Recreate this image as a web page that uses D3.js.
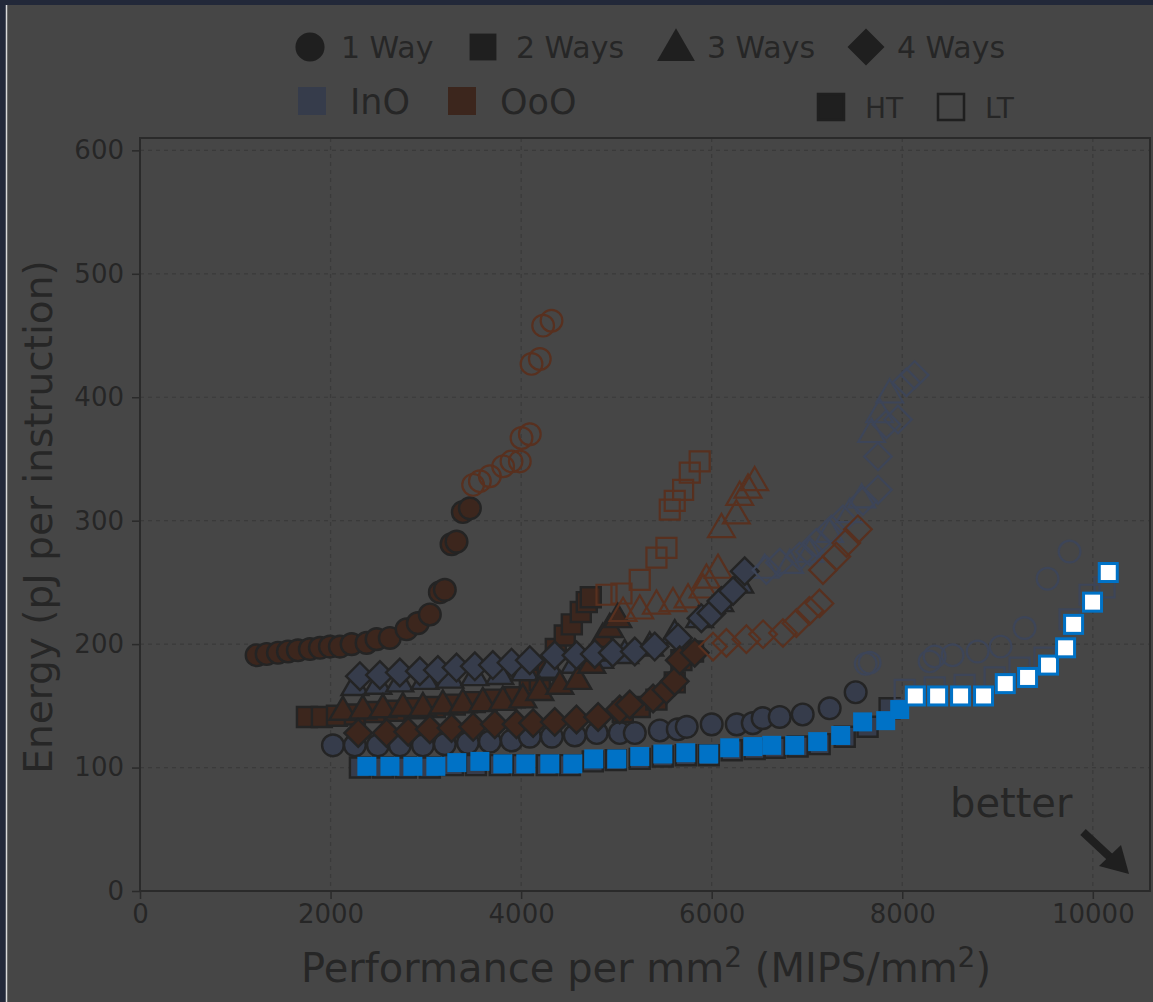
<!DOCTYPE html>
<html>
<head>
<meta charset="utf-8">
<script src="https://cdn.jsdelivr.net/npm/d3@7"></script>
<style>
  html, body { margin: 0; padding: 0; background: #464646; }
  svg { display: block; font-family: 'DejaVu Sans', sans-serif; }
</style>
</head>
<body>
<div id="chart"></div>
<script>
// axis ticks
const xTicks = [0, 2000, 4000, 6000, 8000, 10000];
const yTicks = [0, 100, 200, 300, 400, 500, 600];

// legend entries
const wayLabels = ['1 Way', '2 Ways', '3 Ways', '4 Ways'];
const orgLabels = ['InO', 'OoO'];
const threadLabels = ['HT', 'LT'];

// 1 way
const ino1HtX = [2025, 2255, 2497, 2727, 2969, 3199, 3441, 3672, 3902, 4091, 4322, 4563, 4794, 5035, 5193, 5455, 5644, 5738, 6000, 6263, 6431, 6535, 6714, 6955, 7238, 7511];
const ino1HtY = [118, 118, 118, 118, 118, 119, 120, 121, 122, 125, 125, 126, 128, 128, 128, 130, 131, 133, 135, 135, 136, 140, 141, 143, 148, 161];
const ino1LtX = [7616, 7658, 8287, 8340, 8528, 8791, 9032, 9284, 9525, 9756];
const ino1LtY = [184, 185, 186, 190, 191, 194, 198, 213, 253, 275];
const ooo1HtX = [1224, 1329, 1448, 1553, 1657, 1783, 1888, 1993, 2098, 2221, 2378, 2483, 2622, 2798, 2916, 3042, 3147, 3199, 3270, 3322, 3388, 3462];
const ooo1HtY = [191, 192, 193, 194, 195, 196, 197, 198, 198, 200, 201, 204, 205, 212, 217, 224, 242, 244, 281, 283, 307, 310];
const ooo1LtX = [3496, 3567, 3672, 3811, 3899, 3986, 4004, 4091, 4109, 4196, 4231, 4319];
const ooo1LtY = [329, 332, 336, 344, 348, 348, 367, 370, 427, 431, 458, 462];

// 2 ways
const ino2HtX = [2308, 2549, 2790, 3042, 3283, 3525, 3776, 4018, 4269, 4511, 4752, 4993, 5245, 5486, 5728, 5969, 6210, 6451, 6661, 6902, 7133, 7396, 7636, 7867];
const ino2HtY = [100, 100, 100, 100, 102, 102, 102, 102, 102, 102, 105, 106, 107, 109, 110, 110, 114, 115, 116, 117, 119, 125, 133, 148];
const ino2LtX = [8025, 8340, 8654, 8969, 9231, 9493, 9756, 9966, 10123];
const ino2LtY = [163, 165, 167, 173, 181, 189, 220, 240, 246];
const ooo2HtX = [1752, 1909, 2067, 2255, 2465, 2675, 2884, 3094, 3304, 3514, 3724, 3934, 4091, 4196, 4280, 4364, 4458, 4532, 4626, 4689, 4731, 5067, 5245, 5420, 5612, 5682, 5804];
const ooo2HtY = [141, 141, 142, 143, 145, 146, 148, 149, 151, 153, 155, 157, 165, 171, 179, 196, 207, 216, 226, 234, 238, 145, 149, 155, 169, 187, 194];
const ooo2LtX = [4896, 5053, 5245, 5420, 5525, 5560, 5612, 5700, 5770, 5874];
const ooo2LtY = [240, 241, 252, 270, 278, 309, 316, 325, 339, 348];

// 3 ways
const ino3HtX = [2255, 2497, 2727, 2990, 3252, 3514, 3776, 4039, 4301, 4563, 4825, 5087, 5350, 5612, 5874, 6084, 6294];
const ino3HtY = [165, 166, 168, 170, 171, 173, 174, 177, 179, 183, 187, 191, 197, 207, 220, 233, 248];
const ino3LtX = [6556, 6819, 7028, 7238, 7448, 7574, 7678, 7763, 7868];
const ino3LtY = [260, 264, 273, 289, 305, 317, 370, 386, 402];
const ooo3HtX = [2129, 2339, 2549, 2759, 2969, 3178, 3388, 3598, 3808, 4018, 4196, 4406, 4595, 4741, 4804, 4857, 4930, 5014];
const ooo3HtY = [145, 146, 147, 148, 148, 150, 151, 152, 153, 155, 161, 166, 170, 183, 193, 204, 212, 220];
const ooo3LtX = [5070, 5245, 5420, 5594, 5752, 5909, 5945, 6066, 6102, 6259, 6294, 6381, 6451];
const ooo3LtY = [225, 227, 231, 233, 236, 244, 252, 260, 293, 304, 319, 325, 331];

// 4 ways
const ino4HtX = [2308, 2518, 2727, 2937, 3126, 3322, 3514, 3703, 3899, 4091, 4353, 4581, 4773, 4962, 5193, 5402, 5647, 5892, 5997, 6102, 6224, 6346];
const ino4HtY = [174, 175, 177, 178, 179, 181, 182, 183, 185, 187, 191, 191, 192, 193, 194, 198, 205, 221, 225, 235, 243, 259];
const ino4LtX = [6574, 6714, 6923, 7028, 7098, 7256, 7378, 7588, 7745, 7745, 7833, 7955, 8043, 8130];
const ino4LtY = [260, 266, 271, 275, 282, 293, 301, 316, 325, 352, 378, 382, 412, 418];
const ooo4HtX = [2290, 2588, 2815, 3042, 3270, 3496, 3724, 3952, 4126, 4353, 4581, 4808, 5035, 5140, 5385, 5525, 5612, 5665, 5822];
const ooo4HtY = [128, 128, 129, 131, 132, 133, 135, 135, 136, 137, 139, 141, 147, 151, 156, 163, 170, 187, 193];
const ooo4LtX = [6014, 6154, 6364, 6539, 6748, 6889, 7026, 7131, 7168, 7308, 7413, 7535];
const ooo4LtY = [198, 201, 204, 208, 209, 217, 227, 233, 260, 271, 282, 293];

// pareto frontier (highlighted)
const frontHtX = [2381, 2623, 2864, 3105, 3325, 3567, 3808, 4049, 4301, 4542, 4762, 5004, 5245, 5487, 5728, 5969, 6189, 6431, 6630, 6871, 7112, 7354, 7584, 7826, 7973];
const frontHtY = [101, 101, 101, 101, 104, 105, 103, 103, 103, 103, 107, 107, 109, 111, 112, 111, 116, 117, 118, 118, 121, 126, 137, 138, 147];
const frontLtX = [8137, 8371, 8612, 8853, 9081, 9315, 9535, 9714, 9798, 9997, 10162];
const frontLtY = [158, 158, 158, 158, 168, 173, 183, 197, 216, 234, 258];

const OPTS = {
  width: 1153,
  height: 1002,
  plot: { left: 140, right: 1150, top: 138, bottom: 891 },
  xMax: 10600,
  yMax: 610,
  bg: '#464646',
  frame: '#222839',
  text: '#262626',
  spine: '#2a2a2a',
  grid: '#3a3a3a',
  fill: { InO: '#363c4b', OoO: '#3c261d' },
  hollow: { InO: '#3d4558', OoO: '#58301f' },
  edge: '#242424',
  highlight: '#0072c6'
};

const zip = (xs, ys) => xs.map((x, i) => ({ x: x, y: ys[i] }));

const series = [
  { way: 1, org: 'InO', ht: true, pts: zip(ino1HtX, ino1HtY) },
  { way: 1, org: 'InO', ht: false, pts: zip(ino1LtX, ino1LtY) },
  { way: 1, org: 'OoO', ht: true, pts: zip(ooo1HtX, ooo1HtY) },
  { way: 1, org: 'OoO', ht: false, pts: zip(ooo1LtX, ooo1LtY) },
  { way: 2, org: 'InO', ht: true, pts: zip(ino2HtX, ino2HtY) },
  { way: 2, org: 'InO', ht: false, pts: zip(ino2LtX, ino2LtY) },
  { way: 2, org: 'OoO', ht: true, pts: zip(ooo2HtX, ooo2HtY) },
  { way: 2, org: 'OoO', ht: false, pts: zip(ooo2LtX, ooo2LtY) },
  { way: 3, org: 'InO', ht: true, pts: zip(ino3HtX, ino3HtY) },
  { way: 3, org: 'InO', ht: false, pts: zip(ino3LtX, ino3LtY) },
  { way: 3, org: 'OoO', ht: true, pts: zip(ooo3HtX, ooo3HtY) },
  { way: 3, org: 'OoO', ht: false, pts: zip(ooo3LtX, ooo3LtY) },
  { way: 4, org: 'InO', ht: true, pts: zip(ino4HtX, ino4HtY) },
  { way: 4, org: 'InO', ht: false, pts: zip(ino4LtX, ino4LtY) },
  { way: 4, org: 'OoO', ht: true, pts: zip(ooo4HtX, ooo4HtY) },
  { way: 4, org: 'OoO', ht: false, pts: zip(ooo4LtX, ooo4LtY) }
];

// marker shape per number of ways: [symbol type, area, rotation]
const shapes = {
  1: [d3.symbolCircle, 370, 0],
  2: [d3.symbolSquare, 400, 0],
  3: [d3.symbolTriangle, 310, 0],
  4: [d3.symbolSquare, 380, 45]
};

const marker = (way, scale) => {
  const s = shapes[way];
  return d3.symbol().type(s[0]).size(s[1] * (scale || 1))();
};

const svg = d3.select('#chart')
  .append('svg')
  .attr('width', OPTS.width)
  .attr('height', OPTS.height);

svg.append('rect')
  .attr('width', OPTS.width)
  .attr('height', OPTS.height)
  .attr('fill', OPTS.bg);

// slide frame bits at the top and left
svg.append('rect').attr('x', 0).attr('y', 0).attr('width', OPTS.width).attr('height', 5).attr('fill', OPTS.frame);
svg.append('rect').attr('x', 0).attr('y', 0).attr('width', 6).attr('height', OPTS.height).attr('fill', OPTS.frame);
svg.append('line')
  .attr('x1', 6.5).attr('x2', 6.5).attr('y1', 5).attr('y2', OPTS.height)
  .attr('stroke', '#d9d9d9').attr('stroke-width', 1.5);

const p = OPTS.plot;
const x = d3.scaleLinear().domain([0, OPTS.xMax]).range([p.left, p.right]);
const y = d3.scaleLinear().domain([0, OPTS.yMax]).range([p.bottom, p.top]);

// grid
const grid = svg.append('g').attr('class', 'grid');
grid.selectAll('.gx')
  .data(xTicks.slice(1))
  .enter()
  .append('line')
  .attr('x1', d => x(d)).attr('x2', d => x(d))
  .attr('y1', p.top).attr('y2', p.bottom)
  .attr('stroke', OPTS.grid).attr('stroke-width', 1.2).attr('stroke-dasharray', '4,4');
grid.selectAll('.gy')
  .data(yTicks.slice(1))
  .enter()
  .append('line')
  .attr('x1', p.left).attr('x2', p.right)
  .attr('y1', d => y(d)).attr('y2', d => y(d))
  .attr('stroke', OPTS.grid).attr('stroke-width', 1.2).attr('stroke-dasharray', '4,4');

// scatter series
const plotG = svg.append('g').attr('class', 'points');
series.forEach(s => {
  const rot = shapes[s.way][2];
  plotG.append('g')
    .selectAll('path')
    .data(s.pts)
    .enter()
    .append('path')
    .attr('d', marker(s.way))
    .attr('transform', d => 'translate(' + x(d.x) + ',' + y(d.y) + ')' + (rot ? ' rotate(' + rot + ')' : ''))
    .attr('fill', s.ht ? OPTS.fill[s.org] : 'none')
    .attr('stroke', s.ht ? OPTS.edge : OPTS.hollow[s.org])
    .attr('stroke-width', s.ht ? 2.4 : 2.2);
});

// highlighted frontier
const frontG = svg.append('g').attr('class', 'front');
frontG.selectAll('.fht')
  .data(zip(frontHtX, frontHtY))
  .enter()
  .append('rect')
  .attr('x', d => x(d.x) - 9.5)
  .attr('y', d => y(d.y) - 9.5)
  .attr('width', 19)
  .attr('height', 19)
  .attr('fill', OPTS.highlight);
frontG.selectAll('.flt')
  .data(zip(frontLtX, frontLtY))
  .enter()
  .append('rect')
  .attr('x', d => x(d.x) - 9)
  .attr('y', d => y(d.y) - 9)
  .attr('width', 18)
  .attr('height', 18)
  .attr('fill', '#ffffff')
  .attr('stroke', OPTS.highlight)
  .attr('stroke-width', 3);

// axes
const xAxis = svg.append('g')
  .attr('transform', 'translate(0,' + p.bottom + ')')
  .call(d3.axisBottom(x).tickValues(xTicks).tickFormat(d3.format('d')).tickSize(8).tickPadding(6));
const yAxis = svg.append('g')
  .attr('transform', 'translate(' + p.left + ',0)')
  .call(d3.axisLeft(y).tickValues(yTicks).tickFormat(d3.format('d')).tickSize(8).tickPadding(8));

[xAxis, yAxis].forEach(a => {
  a.select('.domain').remove();
  a.selectAll('line').attr('stroke', OPTS.spine).attr('stroke-width', 1.5);
  a.selectAll('text')
    .attr('fill', OPTS.text)
    .style('font-size', '26px')
    .style('font-family', 'DejaVu Sans, sans-serif');
});

svg.append('rect')
  .attr('x', p.left)
  .attr('y', p.top)
  .attr('width', p.right - p.left)
  .attr('height', p.bottom - p.top)
  .attr('fill', 'none')
  .attr('stroke', OPTS.spine)
  .attr('stroke-width', 2);

// axis labels
svg.append('text')
  .attr('transform', 'translate(52,517) rotate(-90)')
  .attr('text-anchor', 'middle')
  .attr('fill', OPTS.text)
  .style('font-size', '39px')
  .text('Energy (pJ per instruction)');

const xl = svg.append('text')
  .attr('x', 646)
  .attr('y', 982)
  .attr('text-anchor', 'middle')
  .attr('fill', OPTS.text)
  .style('font-size', '40px');
xl.append('tspan').text('Performance per mm');
xl.append('tspan').attr('dy', -15).style('font-size', '28px').text('2');
xl.append('tspan').attr('dy', 15).text(' (MIPS/mm');
xl.append('tspan').attr('dy', -15).style('font-size', '28px').text('2');
xl.append('tspan').attr('dy', 15).text(')');

// "better" annotation with arrow
svg.append('text')
  .attr('x', 950)
  .attr('y', 817)
  .attr('fill', OPTS.text)
  .style('font-size', '40px')
  .text('better');
svg.append('line')
  .attr('x1', 1083).attr('y1', 832)
  .attr('x2', 1112).attr('y2', 859)
  .attr('stroke', '#1f1f1f').attr('stroke-width', 8);
svg.append('path')
  .attr('d', 'M1129,874 L1099,866 L1121,845 Z')
  .attr('fill', '#1f1f1f');

// legend, row 1: marker shapes
const legendColor = '#1f1f1f';
const wayX = [310, 483, 676, 866];
const wayTextX = [341, 516, 707, 897];
wayLabels.forEach((label, i) => {
  const way = i + 1;
  const rot = shapes[way][2];
  svg.append('path')
    .attr('d', marker(way, way === 3 ? 2.0 : 1.8))
    .attr('transform', 'translate(' + wayX[i] + ',' + (way === 3 ? 50 : 47) + ')' + (rot ? ' rotate(' + rot + ')' : ''))
    .attr('fill', legendColor);
  svg.append('text')
    .attr('x', wayTextX[i])
    .attr('y', 58)
    .attr('fill', OPTS.text)
    .style('font-size', '30px')
    .text(label);
});

// legend, row 2: organisation colours
const orgX = [298, 448];
orgLabels.forEach((label, i) => {
  svg.append('rect')
    .attr('x', orgX[i])
    .attr('y', 87)
    .attr('width', 28)
    .attr('height', 28)
    .attr('fill', OPTS.fill[label]);
  svg.append('text')
    .attr('x', orgX[i] + 52)
    .attr('y', 114)
    .attr('fill', OPTS.text)
    .style('font-size', '35px')
    .text(label);
});

// legend, row 2: filled vs hollow
const thrX = [818, 938];
threadLabels.forEach((label, i) => {
  svg.append('rect')
    .attr('x', thrX[i])
    .attr('y', 94)
    .attr('width', 26)
    .attr('height', 26)
    .attr('fill', i === 0 ? legendColor : 'none')
    .attr('stroke', legendColor)
    .attr('stroke-width', 2.5);
  svg.append('text')
    .attr('x', thrX[i] + 47)
    .attr('y', 118)
    .attr('fill', OPTS.text)
    .style('font-size', '28px')
    .text(label);
});
</script>
</body>
</html>
